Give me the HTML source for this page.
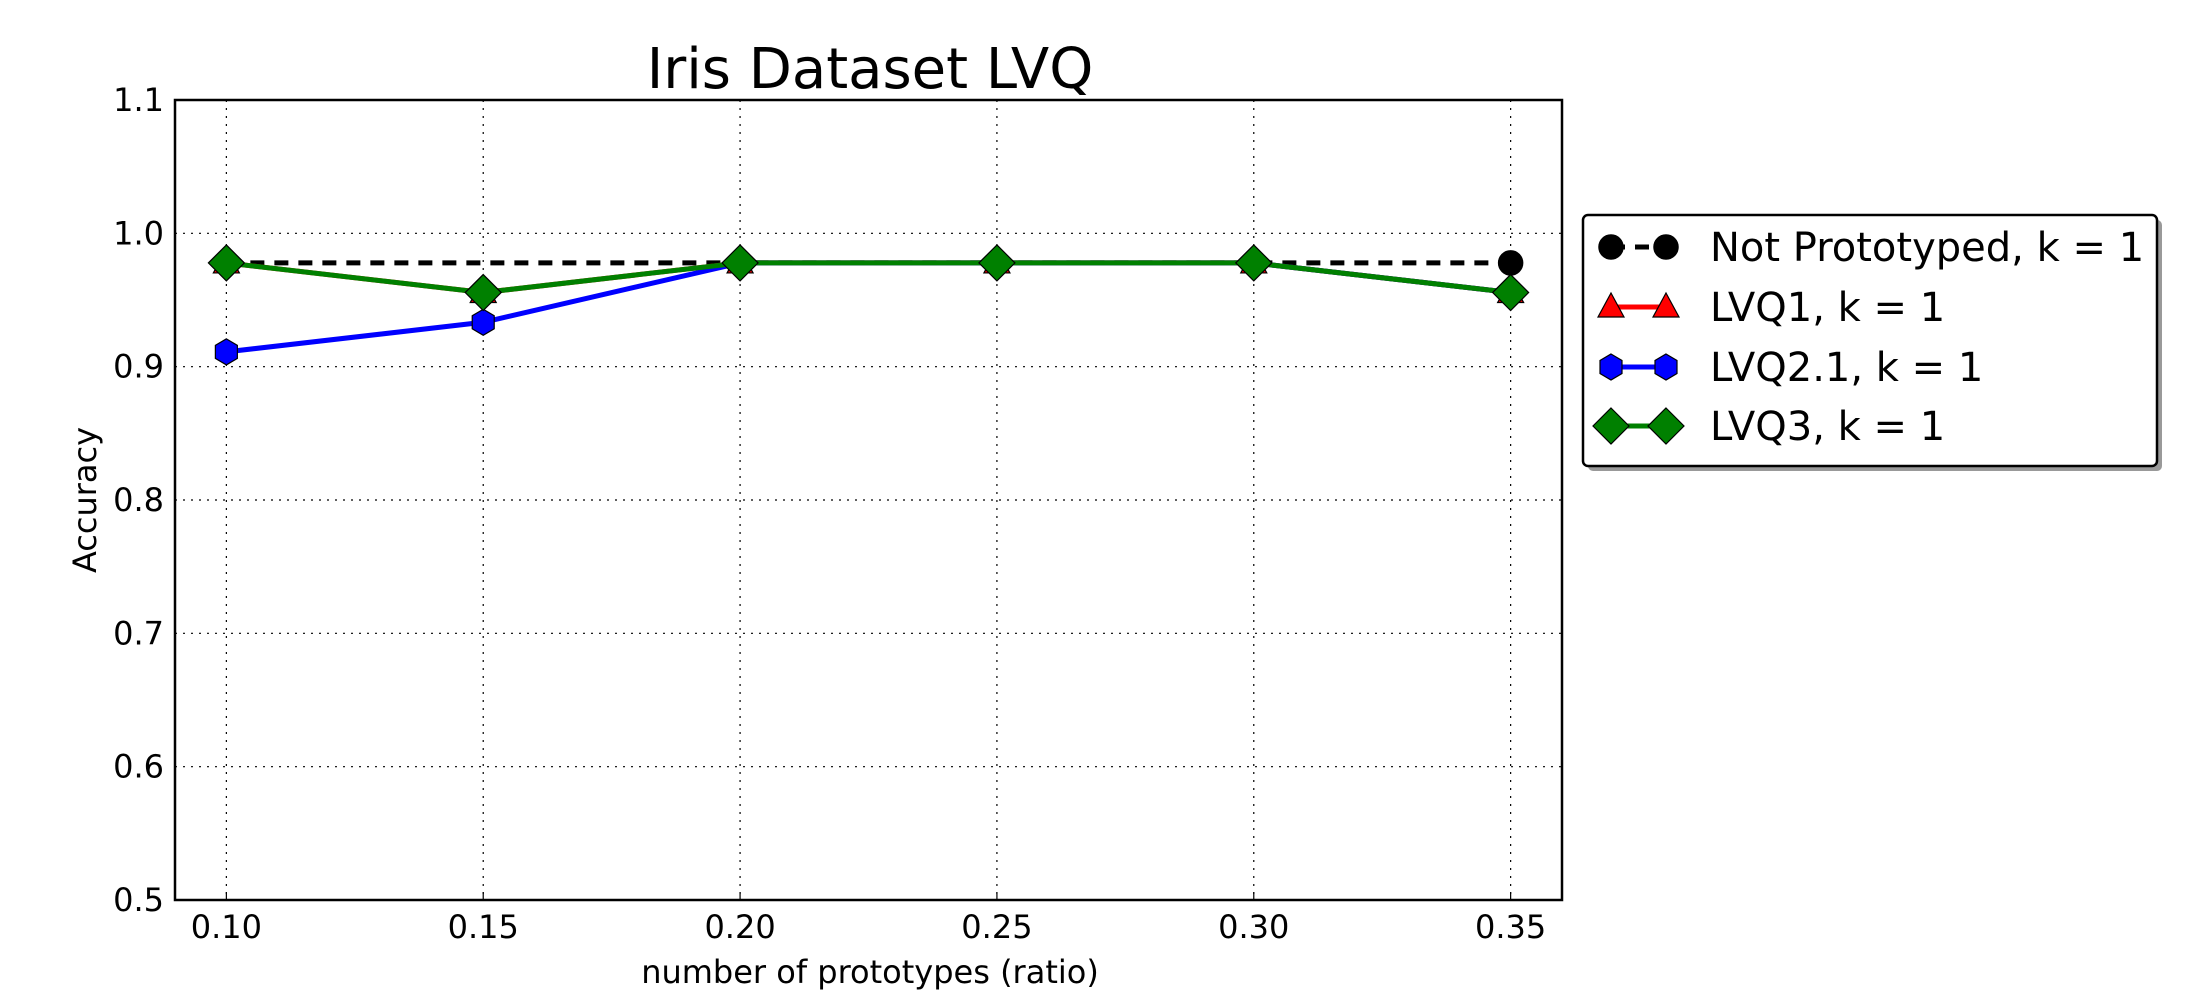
<!DOCTYPE html>
<html><head><meta charset="utf-8"><style>
html,body{margin:0;padding:0;background:#fff;}
svg{display:block;font-family:"DejaVu Sans","Liberation Sans",sans-serif;}
</style></head><body>
<svg id="chart" width="2200" height="1000" viewBox="0 0 2200 1000">
<rect x="0" y="0" width="2200" height="1000" fill="#fff"/>
<text x="870" y="88" font-size="56" text-anchor="middle">Iris Dataset LVQ</text>
<g id="grid"></g>
<g id="ticks"></g>
<g id="series"></g>
<rect x="175" y="100" width="1387" height="800" fill="none" stroke="#000" stroke-width="2.5"/>
<text x="870" y="983" font-size="32" text-anchor="middle">number of prototypes (ratio)</text>
<text x="0" y="0" font-size="32" text-anchor="middle" transform="translate(96,500) rotate(-90)">Accuracy</text>
<g id="legend"></g>
</svg>
<script>
const xTicks = [0.10, 0.15, 0.20, 0.25, 0.30, 0.35];
const xTickLabels = ["0.10", "0.15", "0.20", "0.25", "0.30", "0.35"];
const yTicks = [0.5, 0.6, 0.7, 0.8, 0.9, 1.0, 1.1];
const yTickLabels = ["0.5", "0.6", "0.7", "0.8", "0.9", "1.0", "1.1"];
const ratios = [0.10, 0.15, 0.20, 0.25, 0.30, 0.35];
const notPrototyped = [0.9778, 0.9778, 0.9778, 0.9778, 0.9778, 0.9778];
const lvq1 = [0.9778, 0.9556, 0.9778, 0.9778, 0.9778, 0.9556];
const lvq21 = [0.9111, 0.9333, 0.9778, 0.9778, 0.9778, 0.9556];
const lvq3 = [0.9778, 0.9556, 0.9778, 0.9778, 0.9778, 0.9556];
const seriesNames = ["Not Prototyped, k = 1", "LVQ1, k = 1", "LVQ2.1, k = 1", "LVQ3, k = 1"];

const NS = "http://www.w3.org/2000/svg";
const L = 175, R = 1562, T = 100, B = 900;
const xMin = 0.09, xMax = 0.36, yMin = 0.5, yMax = 1.1;
const sx = v => L + (v - xMin) / (xMax - xMin) * (R - L);
const sy = v => B - (v - yMin) / (yMax - yMin) * (B - T);
function mk(tag, attrs, parent) {
  const e = document.createElementNS(NS, tag);
  for (const k in attrs) e.setAttribute(k, attrs[k]);
  parent.appendChild(e);
  return e;
}
const grid = document.getElementById('grid');
const ticks = document.getElementById('ticks');
xTicks.forEach((t, i) => {
  const g = mk('line', {x1: sx(t), x2: sx(t), y1: T, y2: B, stroke: '#000', 'stroke-width': 1.2, 'stroke-dasharray': '2,6'}, grid);
  
  
  const tk = mk('line', {x1: sx(t), x2: sx(t), y1: B, y2: B - 8, stroke: '#000', 'stroke-width': 1.2}, ticks);
  
  
  const lb = mk('text', {x: sx(t), y: 938, 'font-size': 32, 'text-anchor': 'middle'}, ticks);
  lb.textContent = xTickLabels[i];
  
  
});
yTicks.forEach((t, i) => {
  const g = mk('line', {x1: L, x2: R, y1: sy(t), y2: sy(t), stroke: '#000', 'stroke-width': 1.2, 'stroke-dasharray': '2,6'}, grid);
  
  
  const lb = mk('text', {x: 164, y: sy(t) + 11, 'font-size': 32, 'text-anchor': 'end'}, ticks);
  lb.textContent = yTickLabels[i];
  
  
});
function marker(kind, x, y, parent) {
  let e;
  if (kind === 'circle') e = mk('circle', {cx: x, cy: y, r: 12, fill: '#000', stroke: '#000', 'stroke-width': 1.5}, parent);
  else if (kind === 'tri') e = mk('polygon', {points: `${x},${y-14} ${x+13},${y+10} ${x-13},${y+10}`, fill: '#f00', stroke: '#000', 'stroke-width': 1.2}, parent);
  else if (kind === 'hex') e = mk('polygon', {points: `${x},${y-13} ${x+11},${y-6.5} ${x+11},${y+6.5} ${x},${y+13} ${x-11},${y+6.5} ${x-11},${y-6.5}`, fill: '#00f', stroke: '#000', 'stroke-width': 1.2}, parent);
  else e = mk('polygon', {points: `${x},${y-18} ${x+18},${y} ${x},${y+18} ${x-18},${y}`, fill: '#008000', stroke: '#000', 'stroke-width': 1.2}, parent);
  return e;
}
const sg = document.getElementById('series');
const specs = [
  {vals: notPrototyped, color: '#000', dash: '14,10', kind: 'circle', name: 'not-prototyped', endsOnly: true},
  {vals: lvq1, color: '#f00', dash: null, kind: 'tri', name: 'lvq1'},
  {vals: lvq21, color: '#00f', dash: null, kind: 'hex', name: 'lvq21'},
  {vals: lvq3, color: '#008000', dash: null, kind: 'dia', name: 'lvq3'}
];
specs.forEach(s => {
  const pts = ratios.map((r, i) => `${sx(r)},${sy(s.vals[i])}`).join(' ');
  const attrs = {points: pts, fill: 'none', stroke: s.color, 'stroke-width': 5, 'stroke-linejoin': 'round'};
  if (s.dash) attrs['stroke-dasharray'] = s.dash;
  const pl = mk('polyline', attrs, sg);
  
  
  ratios.forEach((r, i) => {
    if (s.endsOnly && i !== 0 && i !== ratios.length - 1) return;
    const m = marker(s.kind, sx(r), sy(s.vals[i]), sg);
    
    
  });
});
const lg = document.getElementById('legend');
const sh = mk('rect', {x: 1588, y: 220, width: 574, height: 251, rx: 5, fill: '#999'}, lg);


const box = mk('rect', {x: 1583, y: 215, width: 574, height: 251, rx: 5, fill: '#fff', stroke: '#000', 'stroke-width': 2.5}, lg);


const rowY = [247, 307, 367, 426];
specs.forEach((s, i) => {
  const y = rowY[i];
  const la = {x1: 1611, x2: 1666, y1: y, y2: y, stroke: s.color, 'stroke-width': 5};
  if (s.dash) la['stroke-dasharray'] = '14,10';
  const ln = mk('line', la, lg);
  
  
  [1611, 1666].forEach(x => {
    const m = marker(s.kind, x, y, lg);
    
    
  });
  const t = mk('text', {x: 1710, y: y + 14, 'font-size': 40}, lg);
  t.textContent = seriesNames[i];
  
  
});
</script>
</body></html>
